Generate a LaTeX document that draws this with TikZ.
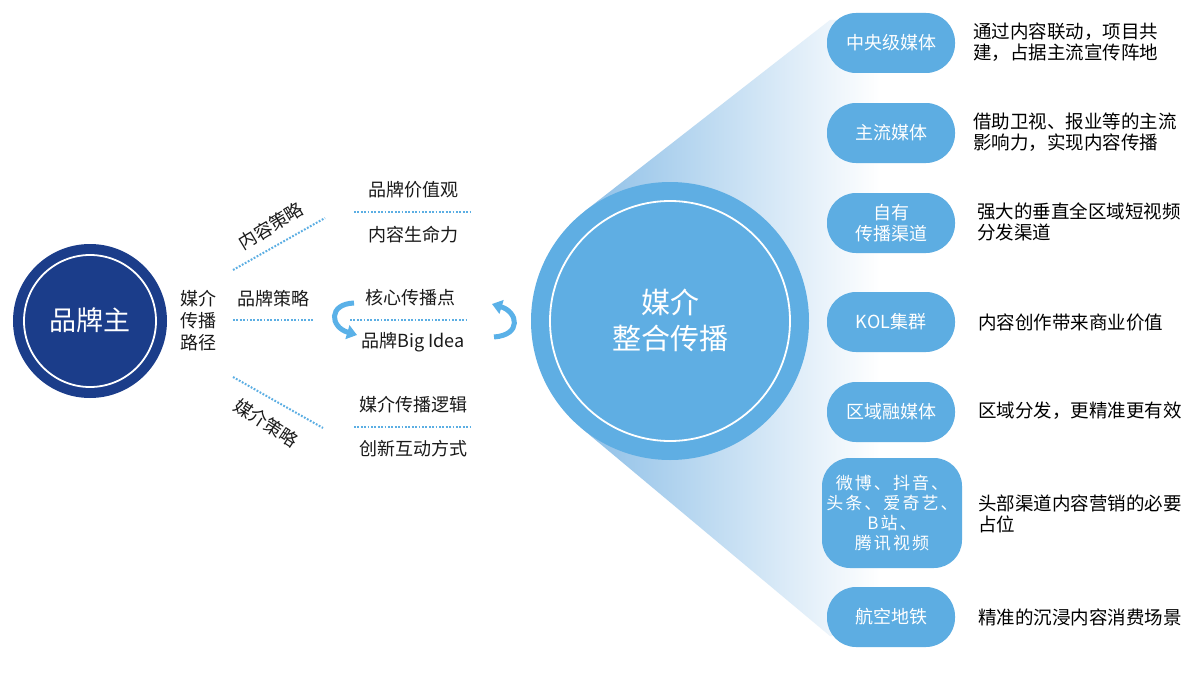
\documentclass[tikz,border=0pt]{standalone}
\usepackage{fontspec}
\setmainfont{Noto Sans CJK SC}
\usetikzlibrary{arrows.meta}
\definecolor{navy}{HTML}{1B3D8A}
\definecolor{bigblue}{HTML}{5FAEE3}
\definecolor{boxblue}{HTML}{5DADE2}
\definecolor{dotblue}{HTML}{5BAEE3}
\definecolor{arrowblue}{HTML}{5AB1E8}
\definecolor{conel}{HTML}{8DBFE7}
\definecolor{txt}{HTML}{1A1A1A}
\tikzset{
 dotline/.style={dotblue, line width=2pt, dash pattern=on 1.8pt off 1.6pt},
 mediabox/.style={fill=boxblue, rounded corners=29pt, minimum width=128pt, minimum height=60pt, inner sep=0pt, text=white, font=\fontsize{18}{21}\selectfont, align=center},
 desc/.style={anchor=west, align=left, text=black, font=\fontsize{18.5}{21}\selectfont, inner sep=0pt},
 lbl/.style={text=txt, font=\fontsize{18}{21}\selectfont, inner sep=0pt},
 curl/.style={arrowblue, line width=5pt, -{Triangle[length=10pt,width=14pt]}},
 ring/.style={white, line width=1.8pt},
}
\begin{document}
\begin{tikzpicture}[x=1pt,y=-1pt]
\fill[white] (0,0) rectangle (1200,685);
\useasboundingbox (0,0) rectangle (1200,685);

% cone
\shade[left color=conel, right color=white]
  (584.6,211.3) -- (830,20) -- (880,20) -- (880,636) -- (830,636) -- (580.8,427.6) -- cycle;

% brand owner circle
\node[circle, fill=navy, minimum size=154pt, inner sep=0pt] (brand) at (90,321) {};
\draw[ring] (brand.center) circle[radius=66pt];
\node[text=white, font=\fontsize{27}{30}\selectfont] (brandt) at (90,320) {品牌主};

% path label
\node[lbl, align=center, font=\fontsize{18}{22}\selectfont] (path) at (198,321) {媒介\\传播\\路径};

% strategy lines
\coordinate (d1a) at (233,270); \coordinate (d1b) at (325,218);
\coordinate (d2a) at (233,320); \coordinate (d2b) at (313,320);
\coordinate (d3a) at (233,377); \coordinate (d3b) at (323,428);
\draw[dotline] (d1a) -- (d1b);
\draw[dotline] (d2a) -- (d2b);
\draw[dotline] (d3a) -- (d3b);
\node[lbl, rotate=31] (s1) at (271,226) {内容策略};
\node[lbl] (s2) at (273,299) {品牌策略};
\node[lbl, rotate=-33] (s3) at (266,423) {媒介策略};

% right groups
\node[lbl] (g1a) at (413,190) {品牌价值观};
\coordinate (e1a) at (354,212); \coordinate (e1b) at (472,212);
\draw[dotline] (e1a) -- (e1b);
\node[lbl] (g1b) at (413,235) {内容生命力};

\node[lbl] (g2a) at (410,298) {核心传播点};
\coordinate (e2a) at (350,320); \coordinate (e2b) at (468,320);
\draw[dotline] (e2a) -- (e2b);
\node[lbl] (g2b) at (413,342) {品牌Big Idea};

\node[lbl] (g3a) at (413,405) {媒介传播逻辑};
\coordinate (e3a) at (354,427); \coordinate (e3b) at (472,427);
\draw[dotline] (e3a) -- (e3b);
\node[lbl] (g3b) at (413,449) {创新互动方式};

% curl arrows
\coordinate (la1) at (354,303); \coordinate (lc1) at (328,304);
\coordinate (lc2) at (330,327); \coordinate (la2) at (357,335);
\draw[curl] (la1) .. controls (lc1) and (lc2) .. (la2);
\coordinate (ra1) at (494,337); \coordinate (rc1) at (522,335);
\coordinate (rc2) at (518,312); \coordinate (ra2) at (492,304);
\draw[curl] (ra1) .. controls (rc1) and (rc2) .. (ra2);

% big circle
\node[circle, fill=bigblue, minimum size=278pt, inner sep=0pt] (mc) at (670,321) {};
\draw[ring] (mc.center) circle[radius=120pt];
\node[text=white, align=center, font=\fontsize{29}{36}\selectfont] (mct) at (670,320) {媒介\\整合传播};

% media boxes
\node[mediabox] (b1) at (891,43) {中央级媒体};
\node[mediabox] (b2) at (891,133) {主流媒体};
\node[mediabox] (b3) at (891,223) {自有\\传播渠道};
\node[mediabox] (b4) at (891,322) {KOL集群};
\node[mediabox] (b5) at (891,412) {区域融媒体};
\node[mediabox, minimum width=140pt, minimum height=110pt, rounded corners=28pt,
  font=\fontsize{17}{20}\selectfont\addfontfeatures{LetterSpace=12}] (b6) at (892,513)
  {微博、抖音、\\头条、爱奇艺、\\B站、\\腾讯视频};
\node[mediabox] (b7) at (891,617) {航空地铁};

% descriptions
\node[desc] (t1) at (973,42) {通过内容联动，项目共\\建，占据主流宣传阵地};
\node[desc] (t2) at (973,132) {借助卫视、报业等的主流\\影响力，实现内容传播};
\node[desc] (t3) at (977,222) {强大的垂直全区域短视频\\分发渠道};
\node[desc] (t4) at (978,322) {内容创作带来商业价值};
\node[desc] (t5) at (978,411) {区域分发，更精准更有效};
\node[desc] (t6) at (978,514) {头部渠道内容营销的必要\\占位};
\node[desc] (t7) at (978,617) {精准的沉浸内容消费场景};
\end{tikzpicture}
\end{document}
